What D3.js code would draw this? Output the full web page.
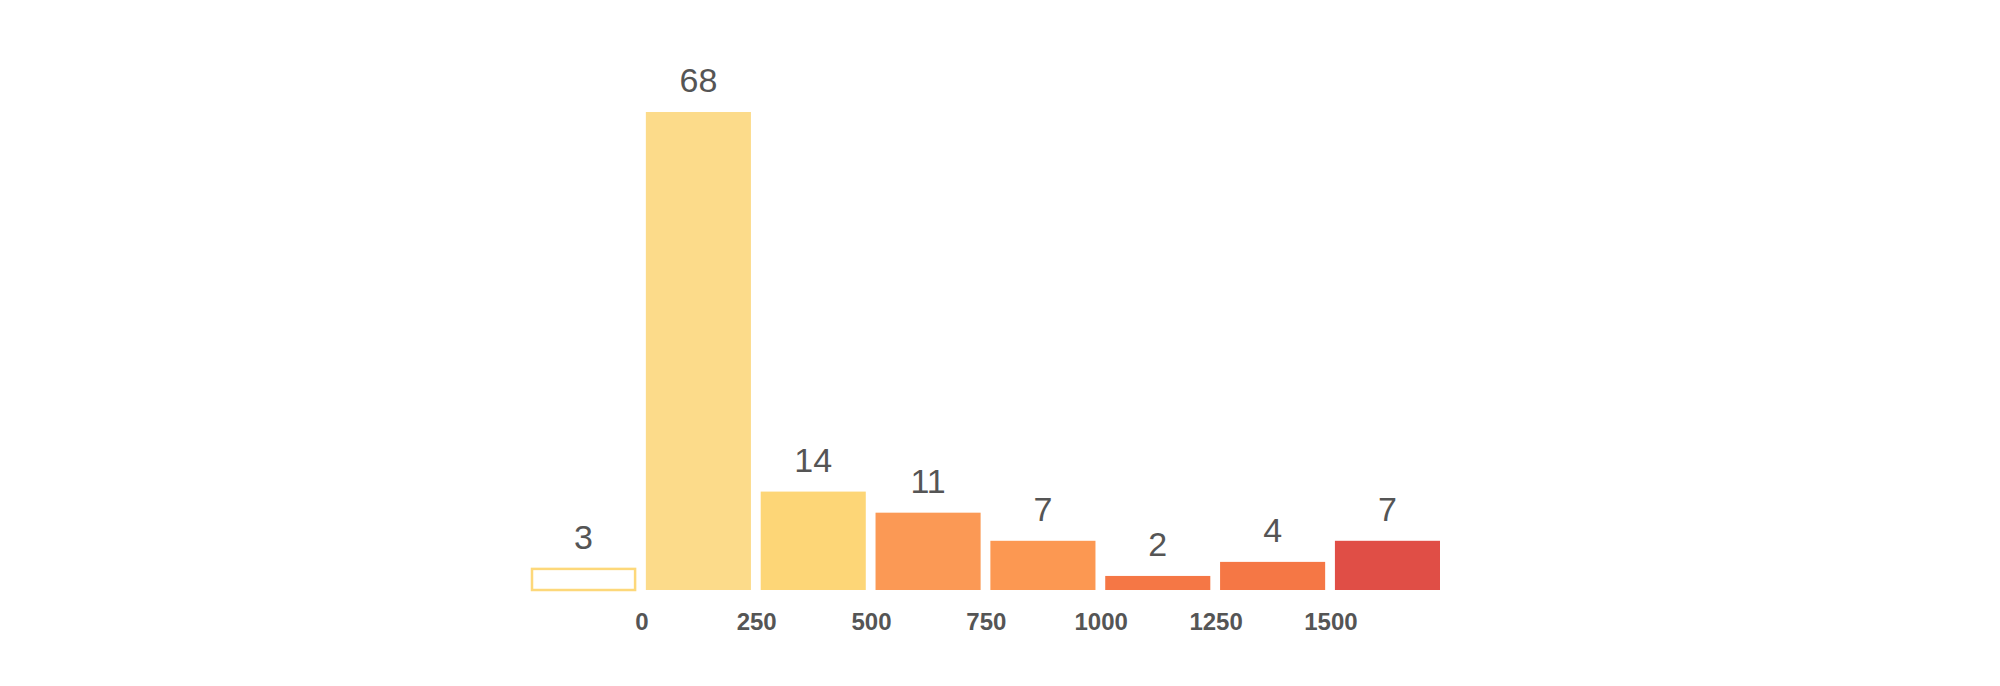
<!DOCTYPE html><html><head><meta charset="utf-8"><script src="https://cdn.jsdelivr.net/npm/d3@7"></script>
<style>body{margin:0;background:#fff}</style></head><body><svg id="c" width="2000" height="686"></svg>
<script>
const categories=["a","b","c","d","e","f","g","h"];
const values=[3,68,14,11,7,2,4,7];
const colors=["#fdd87a","#fcdb8a","#fdd677","#fb9955","#fc9852","#f57745","#f57745","#e04e46"];
const tickLabels=["0","250","500","750","1000","1250","1500"];
const svg=d3.select("#c");
const x=d3.scaleBand().domain(categories).range([531,1440]).paddingInner(0.085).paddingOuter(0).align(0);
const y=d3.scaleLinear().domain([0,68]).range([590,112]);
svg.selectAll("rect").data(values).join("rect")
 .attr("x",(d,i)=>x(categories[i])+(i===0?1:0))
 .attr("y",d=>y(d)+(0))
 .attr("width",(d,i)=>x.bandwidth()-(i===0?2:0))
 .attr("height",d=>y(0)-y(d))
 .attr("fill",(d,i)=>i===0?"#fff":colors[i])
 .attr("stroke",(d,i)=>i===0?colors[0]:"none").attr("stroke-width",2.5);
svg.selectAll("text.v").data(values).join("text").attr("class","v")
 .attr("x",(d,i)=>x(categories[i])+x.bandwidth()/2).attr("y",d=>y(d)-20)
 .attr("text-anchor","middle").attr("font-family","Liberation Sans, Arial, sans-serif")
 .attr("font-size",34).attr("fill","#555").text(d=>d);
svg.selectAll("text.t").data(tickLabels).join("text").attr("class","t")
 .attr("x",(d,i)=>x(categories[i+1])-4).attr("y",630)
 .attr("text-anchor","middle").attr("font-family","Liberation Sans, Arial, sans-serif")
 .attr("font-weight","bold").attr("font-size",24).attr("fill","#555").text(d=>d);
</script></body></html>
